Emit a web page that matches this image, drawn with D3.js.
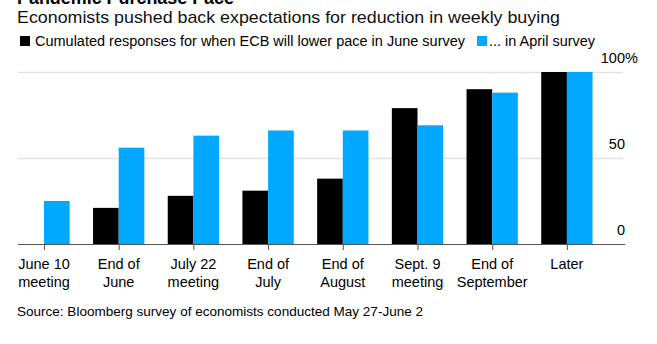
<!DOCTYPE html>
<html>
<head>
<meta charset="utf-8">
<script src="https://cdn.jsdelivr.net/npm/d3@7"></script>
<style>
  html, body { margin: 0; padding: 0; background: #fff; }
  svg { display: block; font-family: "Liberation Sans", Arial, sans-serif; }
</style>
</head>
<body>
<svg id="chart" width="657" height="344"></svg>
<script>
// ---------- data ----------
const categories = [
  ["June 10", "meeting"],
  ["End of", "June"],
  ["July 22", "meeting"],
  ["End of", "July"],
  ["End of", "August"],
  ["Sept. 9", "meeting"],
  ["End of", "September"],
  ["Later"]
];
const juneSurvey = [0, 21, 28, 31, 38, 79, 90, 100];
const aprilSurvey = [25, 56, 63, 66, 66, 69, 88, 100];
const yTicks = [0, 50, 100];

const seriesNames = ["Cumulated responses for when ECB will lower pace in June survey", "... in April survey"];
const colors = ["#000000", "#00a9ff"];

// ---------- layout ----------
const svg = d3.select("#chart");
const plot = { left: 18, right: 625, top: 72, bottom: 244 };
const step = 74.7;

const keys = categories.map((c) => c.join(" "));
const x = d3.scaleBand()
  .domain(keys)
  .range([44 - step / 2, 44 - step / 2 + step * keys.length])
  .paddingInner(0.313)
  .paddingOuter(0.1565);
const xSeries = d3.scaleBand().domain([0, 1]).range([0, x.bandwidth()]);
const y = d3.scaleLinear().domain([0, 100]).range([plot.bottom, plot.top]);

// stretch/squeeze a text to a given width
function fitWidth(sel, w) {
  sel.attr("textLength", w).attr("lengthAdjust", "spacingAndGlyphs");
}

// title (mostly clipped off the top) and subtitle
svg.append("text")
  .attr("x", 17).attr("y", 4)
  .attr("font-size", 19).attr("font-weight", 700).attr("fill", "#000")
  .call(fitWidth, 217)
  .text("Pandemic Purchase Pace");

svg.append("text")
  .attr("x", 17).attr("y", 23)
  .attr("font-size", 17).attr("fill", "#111")
  .call(fitWidth, 543)
  .text("Economists pushed back expectations for reduction in weekly buying");

// legend
const legendX = [20, 477];
const legendW = [430, 106];
seriesNames.forEach((name, i) => {
  const g = svg.append("g").attr("transform", `translate(${legendX[i]},36)`);
  g.append("rect").attr("width", 10).attr("height", 10).attr("fill", colors[i]);
  g.append("text")
    .attr("x", i === 0 ? 15 : 12).attr("y", 10)
    .attr("font-size", 14).attr("fill", "#000")
    .call(fitWidth, legendW[i])
    .text(name);
});

// gridlines + y labels
svg.append("g")
  .selectAll("line")
  .data(yTicks.filter((d) => d > 0))
  .join("line")
  .attr("x1", plot.left).attr("x2", 623)
  .attr("y1", (d) => y(d) + 0.5).attr("y2", (d) => y(d) + 0.5)
  .attr("stroke", "#e2e2e2").attr("stroke-width", 1.5);

const yLab = svg.append("g")
  .selectAll("text")
  .data(yTicks)
  .join("text")
  .attr("x", plot.right)
  .attr("y", (d) => y(d) - 9)
  .attr("font-size", 14.5)
  .attr("fill", "#000")
  .attr("text-anchor", "start");
yLab.each(function (d) {
  const t = d3.select(this);
  t.append("tspan").text(d);
  if (d === 100) t.append("tspan").text("%");
});
// right-align the numbers on the plot edge, letting "%" hang past it
yLab.each(function (d) {
  const t = d3.select(this);
  const num = t.select("tspan").node().getComputedTextLength();
  t.attr("x", plot.right - num);
});

// bars
const groups = svg.append("g")
  .selectAll("g")
  .data(keys)
  .join("g")
  .attr("transform", (d) => `translate(${x(d)},0)`);

groups.selectAll("rect")
  .data((d, i) => [juneSurvey[i], aprilSurvey[i]])
  .join("rect")
  .attr("x", (d, j) => xSeries(j))
  .attr("width", xSeries.bandwidth())
  .attr("y", (d) => y(d))
  .attr("height", (d) => y(0) - y(d))
  .attr("fill", (d, j) => colors[j]);

// baseline axis with ticks and two-line labels
const xAxis = svg.append("g").attr("transform", `translate(0,${plot.bottom})`);
xAxis.append("line")
  .attr("x1", plot.left).attr("x2", plot.right)
  .attr("y1", 0.5).attr("y2", 0.5)
  .attr("stroke", "#555").attr("stroke-width", 1.2);

const tick = xAxis.selectAll("g.tick")
  .data(categories)
  .join("g")
  .attr("class", "tick")
  .attr("transform", (d, i) => `translate(${x(keys[i]) + x.bandwidth() / 2},0)`);
tick.append("line")
  .attr("x1", 0.5).attr("x2", 0.5).attr("y1", 0).attr("y2", 6)
  .attr("stroke", "#555");
tick.append("text")
  .attr("text-anchor", "middle")
  .attr("font-size", 14.5)
  .attr("fill", "#000")
  .selectAll("tspan")
  .data((d) => d)
  .join("tspan")
  .attr("x", 0)
  .attr("y", (d, j) => 25 + j * 17.7)
  .text((d) => d);

// source
svg.append("text")
  .attr("x", 17).attr("y", 316)
  .attr("font-size", 13).attr("fill", "#000")
  .call(fitWidth, 406)
  .text("Source: Bloomberg survey of economists conducted May 27-June 2");
</script>
</body>
</html>
